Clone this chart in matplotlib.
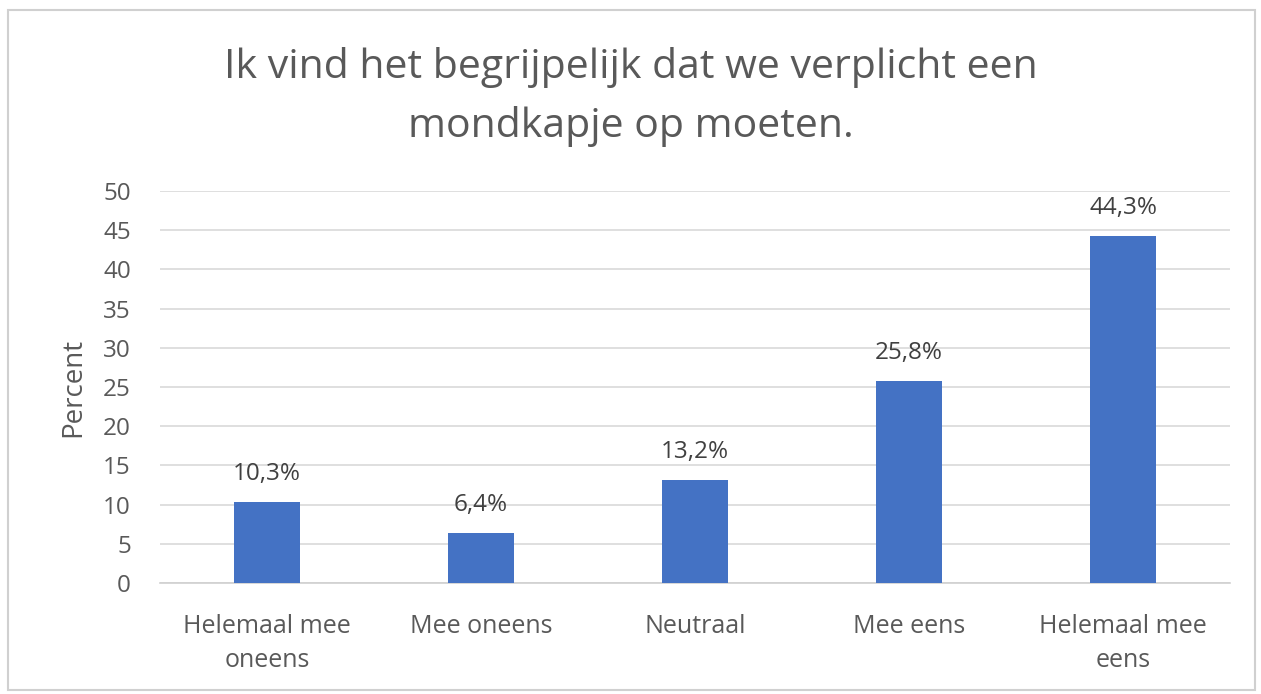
import matplotlib.pyplot as plt
from matplotlib.patches import Rectangle

categories = ["Helemaal mee\noneens", "Mee oneens", "Neutraal", "Mee eens", "Helemaal mee\neens"]
percent = [10.3, 6.4, 13.2, 25.8, 44.3]
labels = ["10,3%", "6,4%", "13,2%", "25,8%", "44,3%"]
yticks = [0, 5, 10, 15, 20, 25, 30, 35, 40, 45, 50]

plt.rcParams['font.family'] = ['Open Sans', 'DejaVu Sans']
grey = "#595959"

fig = plt.figure(figsize=(12.61, 6.94), dpi=100)
# outer chart border
fig.patches.append(Rectangle((8/1261, 4/694), 1247/1261, 680/694, transform=fig.transFigure,
                             fill=False, edgecolor="#d0d0d0", linewidth=1.5))

ax = fig.add_axes([160/1261, 1 - 583/694, 1070/1261, 392/694])
x = range(len(categories))
ax.bar(x, percent, width=0.31, color="#4472C4", zorder=3)
for xi, v, lab in zip(x, percent, labels):
    ax.text(xi, v + 2.8, lab, ha="center", va="baseline", fontsize=17.5, color="#404040")

ax.set_xlim(-0.5, 4.5)
ax.set_ylim(0, 50)
ax.set_yticks(yticks)
ax.set_xticks(list(x))
ax.set_xticklabels(categories, fontsize=18, color=grey, linespacing=1.5)
ax.tick_params(axis="y", labelsize=17.5, labelcolor=grey, length=0, pad=21)
ax.tick_params(axis="x", length=0, pad=22)
ax.grid(axis="y", color="#d9d9d9", linewidth=1.2, zorder=0)
for s in ["top", "right", "left"]:
    ax.spines[s].set_visible(False)
ax.spines["bottom"].set_color("#d0d0d0")
ax.spines["bottom"].set_linewidth(1.2)
ax.set_ylabel("Percent", fontsize=20, color=grey, labelpad=11)

fig.text(631/1261, 1 - 97/694, "Ik vind het begrijpelijk dat we verplicht een\nmondkapje op moeten.",
         ha="center", va="center", fontsize=29.5, color=grey, linespacing=1.6)

fig.savefig("out.png", dpi=100, facecolor="white")
